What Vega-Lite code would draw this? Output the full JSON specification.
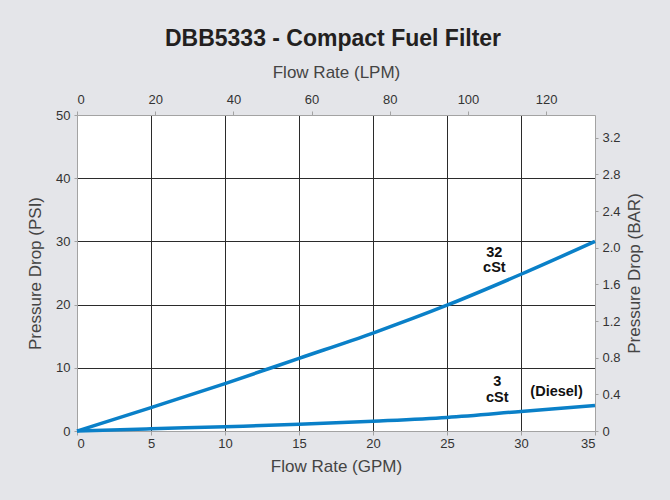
{
  "$schema": "https://vega.github.io/schema/vega-lite/v6.json",
  "width": 518,
  "height": 316,
  "autosize": {"type": "none"},
  "padding": {"left": 77, "top": 115, "right": 75, "bottom": 69},
  "background": "#e4e5e9",
  "title": {
    "text": "DBB5333 - Compact Fuel Filter",
    "font": "Liberation Sans",
    "fontSize": 23,
    "fontWeight": "bold",
    "color": "#231f20",
    "anchor": "middle",
    "offset": 12,
    "dx": -3
  },
  "config": {
    "view": {"fill": "white", "stroke": null},
    "axis": {
      "labelFont": "Liberation Sans",
      "labelFontSize": 13,
      "labelColor": "#333333",
      "titleFont": "Liberation Sans",
      "titleFontSize": 17,
      "titleFontWeight": "normal",
      "titleColor": "#444444",
      "domainColor": "#a3a3a3",
      "tickColor": "#a3a3a3",
      "gridWidth": 1,
      "gridOpacity": 1
    }
  },
  "layer": [
    {
      "layer": [
        {
          "data": {
            "values": [
              {"series": "32 cSt", "gpm": 0, "psi": 0},
              {"series": "32 cSt", "gpm": 5, "psi": 3.7},
              {"series": "32 cSt", "gpm": 10, "psi": 7.5},
              {"series": "32 cSt", "gpm": 15, "psi": 11.5},
              {"series": "32 cSt", "gpm": 20, "psi": 15.5},
              {"series": "32 cSt", "gpm": 25, "psi": 19.9},
              {"series": "32 cSt", "gpm": 30, "psi": 24.8},
              {"series": "32 cSt", "gpm": 35, "psi": 30.0},
              {"series": "3 cSt", "gpm": 0, "psi": 0},
              {"series": "3 cSt", "gpm": 5, "psi": 0.35},
              {"series": "3 cSt", "gpm": 10, "psi": 0.68},
              {"series": "3 cSt", "gpm": 15, "psi": 1.05},
              {"series": "3 cSt", "gpm": 20, "psi": 1.55},
              {"series": "3 cSt", "gpm": 25, "psi": 2.15},
              {"series": "3 cSt", "gpm": 30, "psi": 3.1},
              {"series": "3 cSt", "gpm": 35, "psi": 4.05}
            ]
          },
          "mark": {"type": "line", "color": "#0a80c8", "strokeWidth": 3.5, "interpolate": "monotone"},
          "encoding": {
            "x": {
              "field": "gpm", "type": "quantitative",
              "scale": {"domain": [0, 35], "nice": false},
              "axis": {
                "orient": "bottom",
                "title": "Flow Rate (GPM)",
                "values": [0, 5, 10, 15, 20, 25, 30, 35],
                "tickSize": 4,
                "labelPadding": 2,
                "titlePadding": 8,
                "grid": true,
                "gridColor": {"condition": {"test": "datum.value == 0 || datum.value == 35", "value": "transparent"}, "value": "#2b2b2b"}
              }
            },
            "y": {
              "field": "psi", "type": "quantitative",
              "scale": {"domain": [0, 50], "nice": false},
              "axis": {
                "orient": "left",
                "title": "Pressure Drop (PSI)",
                "values": [0, 10, 20, 30, 40, 50],
                "tickSize": 3,
                "labelPadding": 4,
                "titlePadding": 11,
                "grid": true,
                "gridColor": {"condition": {"test": "datum.value == 0 || datum.value == 50", "value": "transparent"}, "value": "#2b2b2b"}
              }
            },
            "detail": {"field": "series"}
          }
        },
        {
          "data": {
            "values": [
              {"label": "32", "gpm": 28.2, "psi": 28.2},
              {"label": "cSt", "gpm": 28.2, "psi": 25.8},
              {"label": "3", "gpm": 28.4, "psi": 7.8},
              {"label": "cSt", "gpm": 28.4, "psi": 5.3},
              {"label": "(Diesel)", "gpm": 32.4, "psi": 6.2}
            ]
          },
          "mark": {"type": "text", "font": "Liberation Sans", "fontSize": 14.5, "fontWeight": "bold", "color": "#111111", "baseline": "middle", "align": "center"},
          "encoding": {
            "x": {"field": "gpm", "type": "quantitative"},
            "y": {"field": "psi", "type": "quantitative"},
            "text": {"field": "label"}
          }
        }
      ]
    },
    {
      "data": {"values": [{"lpm": 0, "bar": 0}, {"lpm": 132.49, "bar": 3.4474}]},
      "mark": {"type": "point", "opacity": 0},
      "encoding": {
        "x": {
          "field": "lpm", "type": "quantitative",
          "scale": {"domain": [0, 132.49], "nice": false},
          "axis": {
            "orient": "top",
            "title": "Flow Rate (LPM)",
            "values": [0, 20, 40, 60, 80, 100, 120],
            "tickSize": 4,
            "labelPadding": 5,
            "titlePadding": 12,
            "grid": false
          }
        },
        "y": {
          "field": "bar", "type": "quantitative",
          "scale": {"domain": [0, 3.4474], "nice": false},
          "axis": {
            "orient": "right",
            "title": "Pressure Drop (BAR)",
            "titleAngle": 270,
            "titleBaseline": "top",
            "values": [0, 0.4, 0.8, 1.2, 1.6, 2.0, 2.4, 2.8, 3.2],
            "labelExpr": "datum.value == 0 ? '0' : format(datum.value, '.1f')",
            "tickSize": 3,
            "labelPadding": 4,
            "titlePadding": 6,
            "grid": false
          }
        }
      }
    }
  ],
  "resolve": {"scale": {"x": "independent", "y": "independent"}}
}
